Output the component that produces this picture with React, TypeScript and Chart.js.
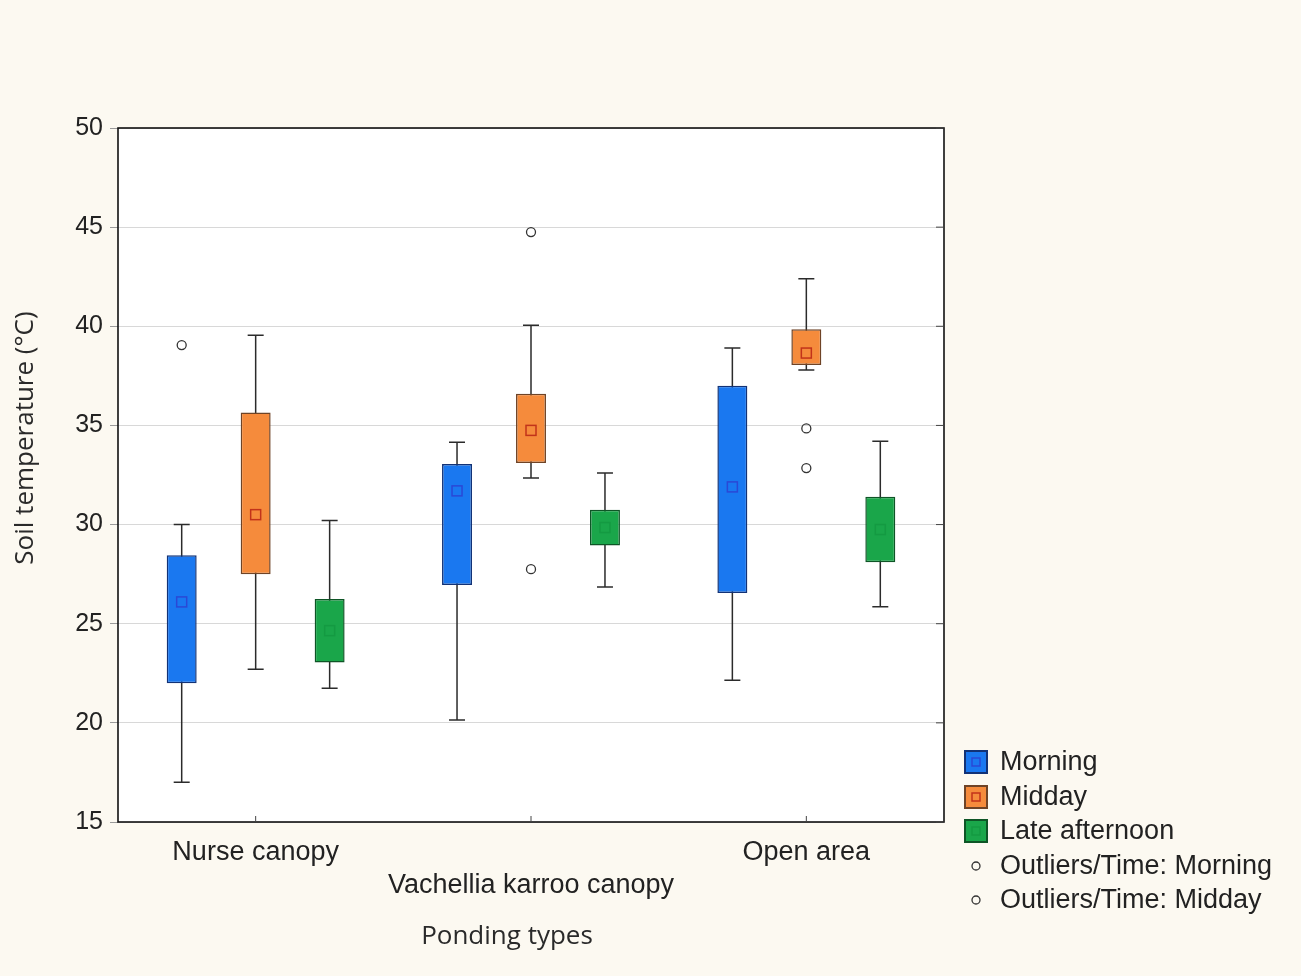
import React, { useEffect, useRef } from "react";
import { Chart, registerables } from "chart.js";

Chart.register(...registerables);

// ---- data ----
const categories = ["Nurse canopy", "Vachellia karroo canopy", "Open area"];
const tickLabels = [["Nurse canopy"], ["", "Vachellia karroo canopy"], ["Open area"]];
const seriesNames = ["Morning", "Midday", "Late afternoon"];

const morningMin = [17.0, 20.15, 22.15];
const morningQ1 = [22.0, 26.95, 26.55];
const morningQ3 = [28.45, 33.05, 37.0];
const morningMax = [30.0, 34.15, 38.9];
const morningMean = [26.1, 31.7, 31.9];

const middayMin = [22.7, 32.35, 37.8];
const middayQ1 = [27.5, 33.1, 38.05];
const middayQ3 = [35.65, 36.6, 39.85];
const middayMax = [39.55, 40.05, 42.4];
const middayMean = [30.5, 34.75, 38.65];

const afternoonMin = [21.75, 26.85, 25.85];
const afternoonQ1 = [23.05, 28.95, 28.1];
const afternoonQ3 = [26.25, 30.75, 31.4];
const afternoonMax = [30.2, 32.6, 34.2];
const afternoonMean = [24.65, 29.85, 29.75];

// outliers: [category index, value]
const morningOutliers: [number, number][] = [[0, 39.05]];
const middayOutliers: [number, number][] = [
  [1, 44.75],
  [1, 27.75],
  [2, 34.85],
  [2, 32.85],
];

const yMin = 15;
const yMax = 50;
const yStep = 5;

const yTitle = "Soil temperature (°C)";
const xTitle = "Ponding types";
const outlierLegend = ["Outliers/Time: Morning", "Outliers/Time: Midday"];

// ---- styles ----
const fills = ["#1a78f0", "#f58b3c", "#1aa64a"];
const borders = ["#123276", "#6e4326", "#0e5526"];
const meanColors = ["#2a48d6", "#c2331a", "#149a42"];
const stats = [
  { min: morningMin, q1: morningQ1, q3: morningQ3, max: morningMax, mean: morningMean },
  { min: middayMin, q1: middayQ1, q3: middayQ3, max: middayMax, mean: middayMean },
  { min: afternoonMin, q1: afternoonQ1, q3: afternoonQ3, max: afternoonMax, mean: afternoonMean },
];
const outlierSets = [
  { series: 0, points: morningOutliers },
  { series: 1, points: middayOutliers },
];

const bgColor = "#fcf9f1";
const textColor = "#222222";
const sansA = '"Liberation Sans", Arial, sans-serif';
const sansB = '"Open Sans", sans-serif';

const extrasPlugin = {
  id: "boxExtras",
  beforeDraw(chart: any) {
    const { ctx, chartArea } = chart;
    ctx.save();
    ctx.fillStyle = bgColor;
    ctx.fillRect(0, 0, chart.width, chart.height);
    ctx.fillStyle = "#ffffff";
    ctx.fillRect(chartArea.left, chartArea.top, chartArea.right - chartArea.left, chartArea.bottom - chartArea.top);
    ctx.restore();
  },
  beforeDatasetsDraw(chart: any) {
    const { ctx } = chart;
    const ys = chart.scales.y;
    ctx.save();
    ctx.strokeStyle = "#2b2b2b";
    ctx.lineWidth = 1.5;
    stats.forEach((s, di) => {
      const meta = chart.getDatasetMeta(di);
      meta.data.forEach((el: any, i: number) => {
        const x = el.x;
        const pMin = ys.getPixelForValue(s.min[i]);
        const pMax = ys.getPixelForValue(s.max[i]);
        ctx.beginPath();
        ctx.moveTo(x, pMin);
        ctx.lineTo(x, pMax);
        ctx.moveTo(x - 8, pMin);
        ctx.lineTo(x + 8, pMin);
        ctx.moveTo(x - 8, pMax);
        ctx.lineTo(x + 8, pMax);
        ctx.stroke();
      });
    });
    ctx.restore();
  },
  afterDatasetsDraw(chart: any) {
    const { ctx, chartArea } = chart;
    const ys = chart.scales.y;
    const xs = chart.scales.x;
    ctx.save();
    // mean markers
    stats.forEach((s, di) => {
      const meta = chart.getDatasetMeta(di);
      ctx.strokeStyle = meanColors[di];
      ctx.lineWidth = 1.5;
      meta.data.forEach((el: any, i: number) => {
        const y = ys.getPixelForValue(s.mean[i]);
        ctx.strokeRect(el.x - 5, y - 5, 10, 10);
      });
    });
    // outliers
    ctx.strokeStyle = "#333333";
    ctx.lineWidth = 1.3;
    outlierSets.forEach((o) => {
      const meta = chart.getDatasetMeta(o.series);
      o.points.forEach(([ci, v]) => {
        const x = meta.data[ci].x;
        const y = ys.getPixelForValue(v);
        ctx.beginPath();
        ctx.arc(x, y, 4.5, 0, Math.PI * 2);
        ctx.stroke();
      });
    });
    // frame
    ctx.strokeStyle = "#111111";
    ctx.lineWidth = 1.6;
    ctx.strokeRect(chartArea.left, chartArea.top, chartArea.right - chartArea.left, chartArea.bottom - chartArea.top);
    // inner ticks on x axis and right border
    ctx.lineWidth = 1;
    ctx.strokeStyle = "#444444";
    ctx.beginPath();
    xs.ticks.forEach((_: any, i: number) => {
      const x = xs.getPixelForTick(i);
      ctx.moveTo(x, chartArea.bottom);
      ctx.lineTo(x, chartArea.bottom - 6);
    });
    ys.ticks.forEach((_: any, i: number) => {
      const y = ys.getPixelForTick(i);
      ctx.moveTo(chartArea.right, y);
      ctx.lineTo(chartArea.right - 8, y);
    });
    ctx.stroke();
    ctx.restore();
  },
  afterDraw(chart: any) {
    const { ctx } = chart;
    ctx.save();
    // legend
    const lx = 957;
    const rowY = [754, 789, 823, 858, 892];
    ctx.font = `27px ${sansA}`;
    ctx.textBaseline = "middle";
    ctx.textAlign = "left";
    seriesNames.forEach((name, i) => {
      const cy = rowY[i];
      ctx.fillStyle = fills[i];
      ctx.fillRect(lx, cy - 11, 22, 22);
      ctx.strokeStyle = borders[i];
      ctx.lineWidth = 2;
      ctx.strokeRect(lx, cy - 11, 22, 22);
      ctx.strokeStyle = meanColors[i];
      ctx.lineWidth = 1.5;
      ctx.strokeRect(lx + 7, cy - 4, 8, 8);
      ctx.fillStyle = textColor;
      ctx.fillText(name, lx + 35, cy + 1);
    });
    outlierLegend.forEach((name, j) => {
      const cy = rowY[3 + j];
      ctx.strokeStyle = "#333333";
      ctx.lineWidth = 1.3;
      ctx.beginPath();
      ctx.arc(lx + 11, cy, 4, 0, Math.PI * 2);
      ctx.stroke();
      ctx.fillStyle = textColor;
      ctx.fillText(name, lx + 35, cy + 1);
    });
    // axis titles
    ctx.fillStyle = "#2a2a2a";
    ctx.textAlign = "center";
    ctx.font = `26px ${sansB}`;
    ctx.translate(18, 430);
    ctx.rotate(-Math.PI / 2);
    ctx.fillText(yTitle, 0, 0);
    ctx.setTransform(1, 0, 0, 1, 0, 0);
    ctx.font = `26px ${sansB}`;
    ctx.fillText(xTitle, 499, 929);
    ctx.restore();
  },
};

export default function App() {
  const ref = useRef<HTMLCanvasElement | null>(null);
  useEffect(() => {
    document.body.style.background = bgColor;
    if (!ref.current) return;
    const chart = new Chart(ref.current, {
      type: "bar",
      data: {
        labels: tickLabels as any,
        datasets: stats.map((s, di) => ({
          label: seriesNames[di],
          data: categories.map((_, i) => [s.q1[i], s.q3[i]]) as any,
          backgroundColor: fills[di],
          borderColor: borders[di],
          borderWidth: 1.5,
          borderSkipped: false,
          categoryPercentage: 0.806,
          barPercentage: 0.405,
        })),
      },
      options: {
        responsive: false,
        animation: false,
        layout: { padding: { top: 120, right: 349, bottom: 0, left: 0 } },
        plugins: { legend: { display: false }, tooltip: { enabled: false } },
        scales: {
          x: {
            grid: { display: false, drawTicks: false },
            border: { display: false },
            ticks: {
              color: textColor,
              padding: 14,
              maxRotation: 0,
              autoSkip: false,
              font: { family: sansA, size: 27, lineHeight: 1.22 },
            },
            afterFit: (scale: any) => {
              scale.height = 146;
            },
          },
          y: {
            min: yMin,
            max: yMax,
            grid: { color: "#d8d8d8", lineWidth: 1, tickLength: 8, tickColor: "#9a9a9a" },
            border: { display: false },
            ticks: {
              stepSize: yStep,
              color: textColor,
              padding: 7,
              font: { family: sansA, size: 25 },
            },
            afterFit: (scale: any) => {
              scale.width = 110;
            },
          },
        },
      },
      plugins: [extrasPlugin],
    });
    return () => chart.destroy();
  }, []);
  return (
    <div style={{ width: 1285, height: 960 }}>
      <canvas ref={ref} width={1285} height={960} style={{ display: "block" }} />
    </div>
  );
}
